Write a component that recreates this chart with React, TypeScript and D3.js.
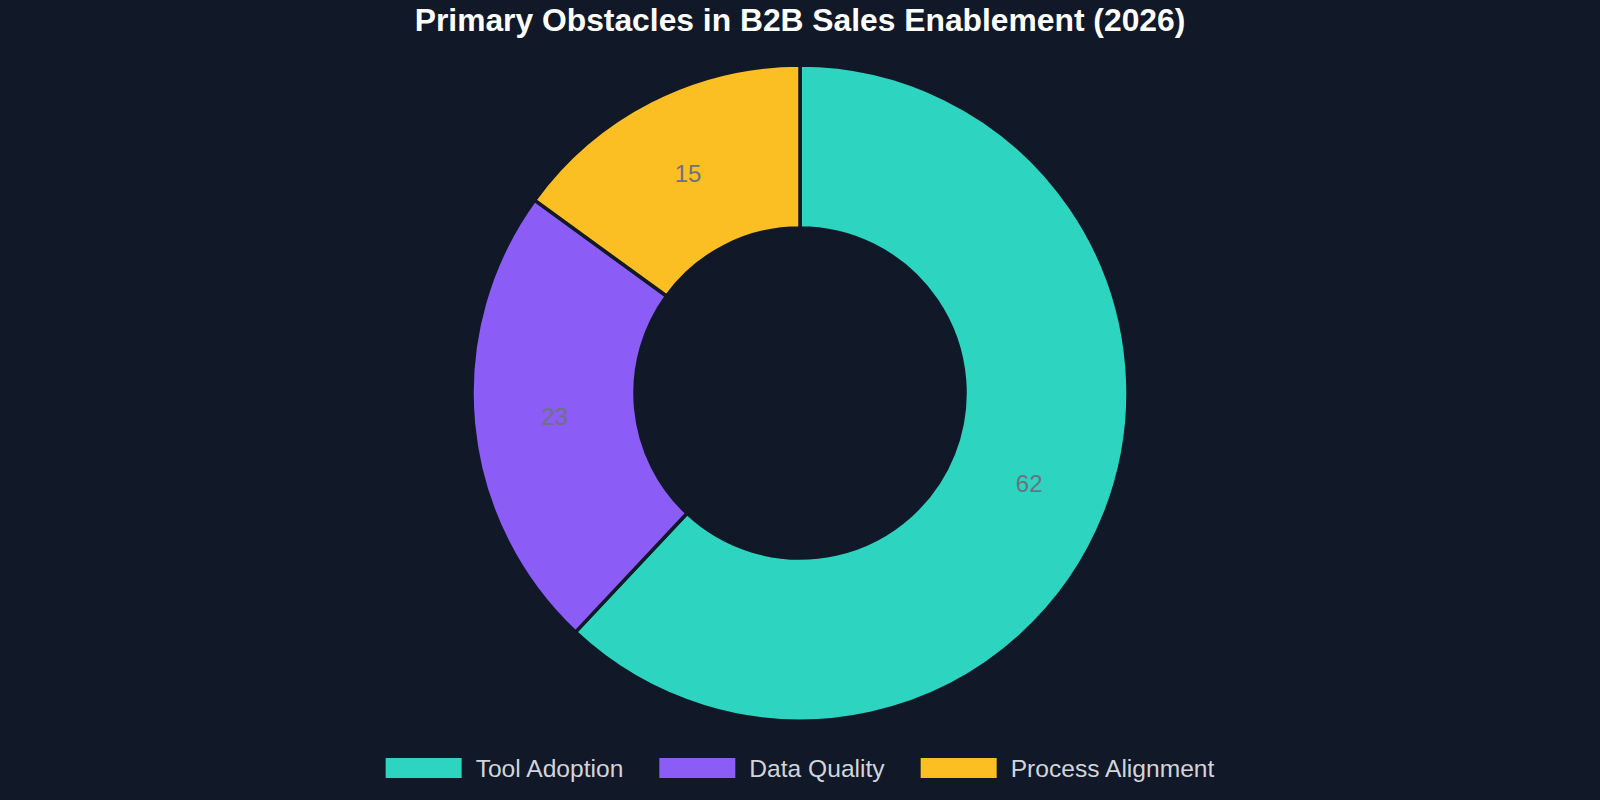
import React, { useRef, useEffect } from 'react'
import * as d3 from 'd3'

// chart data
const categories = ['Tool Adoption', 'Data Quality', 'Process Alignment']
const values = [62, 23, 15]
const colors = ['#2dd4bf', '#8b5cf6', '#fbbf24']

const title = 'Primary Obstacles in B2B Sales Enablement (2026)'

const W = 1600
const H = 800
const BG = '#111827'

export default function App() {
  const gRef = useRef<SVGGElement>(null)

  useEffect(() => {
    const g = d3.select(gRef.current)
    g.selectAll('*').remove()

    const cx = W / 2
    const cy = 393
    const outer = 328
    const inner = 165

    const data = categories.map((c, i) => ({ name: c, value: values[i], color: colors[i] }))

    const pie = d3.pie<any>().sort(null).value(d => d.value)
    const arcs = pie(data)

    const arc = d3.arc<any>().innerRadius(inner).outerRadius(outer)

    const chart = g.append('g').attr('transform', `translate(${cx},${cy})`)

    chart.selectAll('path')
      .data(arcs)
      .join('path')
        .attr('d', arc)
        .attr('fill', d => d.data.color)
        .attr('stroke', BG)
        .attr('stroke-width', 3.5)

    const mid = (inner + outer) / 2
    chart.selectAll('text')
      .data(arcs)
      .join('text')
        .attr('x', d => mid * Math.sin((d.startAngle + d.endAngle) / 2))
        .attr('y', d => -mid * Math.cos((d.startAngle + d.endAngle) / 2))
        .attr('dy', '0.35em')
        .attr('text-anchor', 'middle')
        .attr('fill', '#6b7280')
        .style('font-size', '24px')
        .text(d => d.data.value)

    // title
    g.append('text')
      .attr('x', W / 2)
      .attr('y', 20)
      .attr('dy', '0.35em')
      .attr('text-anchor', 'middle')
      .attr('fill', '#ffffff')
      .style('font-size', '31.8px')
      .style('font-weight', 'bold')
      .text(title)

    // legend, measured then centered
    const rectW = 76
    const rectH = 20
    const textGap = 14
    const itemGap = 36
    const ly = 768

    const legend = g.append('g')
    const items = legend.selectAll('g')
      .data(data)
      .join('g')

    items.append('rect')
      .attr('width', rectW)
      .attr('height', rectH)
      .attr('y', ly - rectH / 2)
      .attr('fill', d => d.color)

    const labels = items.append('text')
      .attr('x', rectW + textGap)
      .attr('y', ly)
      .attr('dy', '0.35em')
      .attr('fill', '#d1d5db')
      .style('font-size', '24.6px')
      .text(d => d.name)

    const widths: number[] = []
    labels.each(function () { widths.push((this as SVGTextElement).getComputedTextLength()) })
    const itemW = widths.map(w => rectW + textGap + w)
    const total = d3.sum(itemW) + itemGap * (itemW.length - 1)
    let x = W / 2 - total / 2
    items.attr('transform', (d, i) => {
      const t = `translate(${x},0)`
      x += itemW[i] + itemGap
      return t
    })
  }, [])

  return (
    <svg
      width={W}
      height={H}
      viewBox={`0 0 ${W} ${H}`}
      style={{ position: 'fixed', top: 0, left: 0, background: BG, fontFamily: '"Liberation Sans", Arial, sans-serif' }}>
      <g ref={gRef}></g>
    </svg>
  )
}
